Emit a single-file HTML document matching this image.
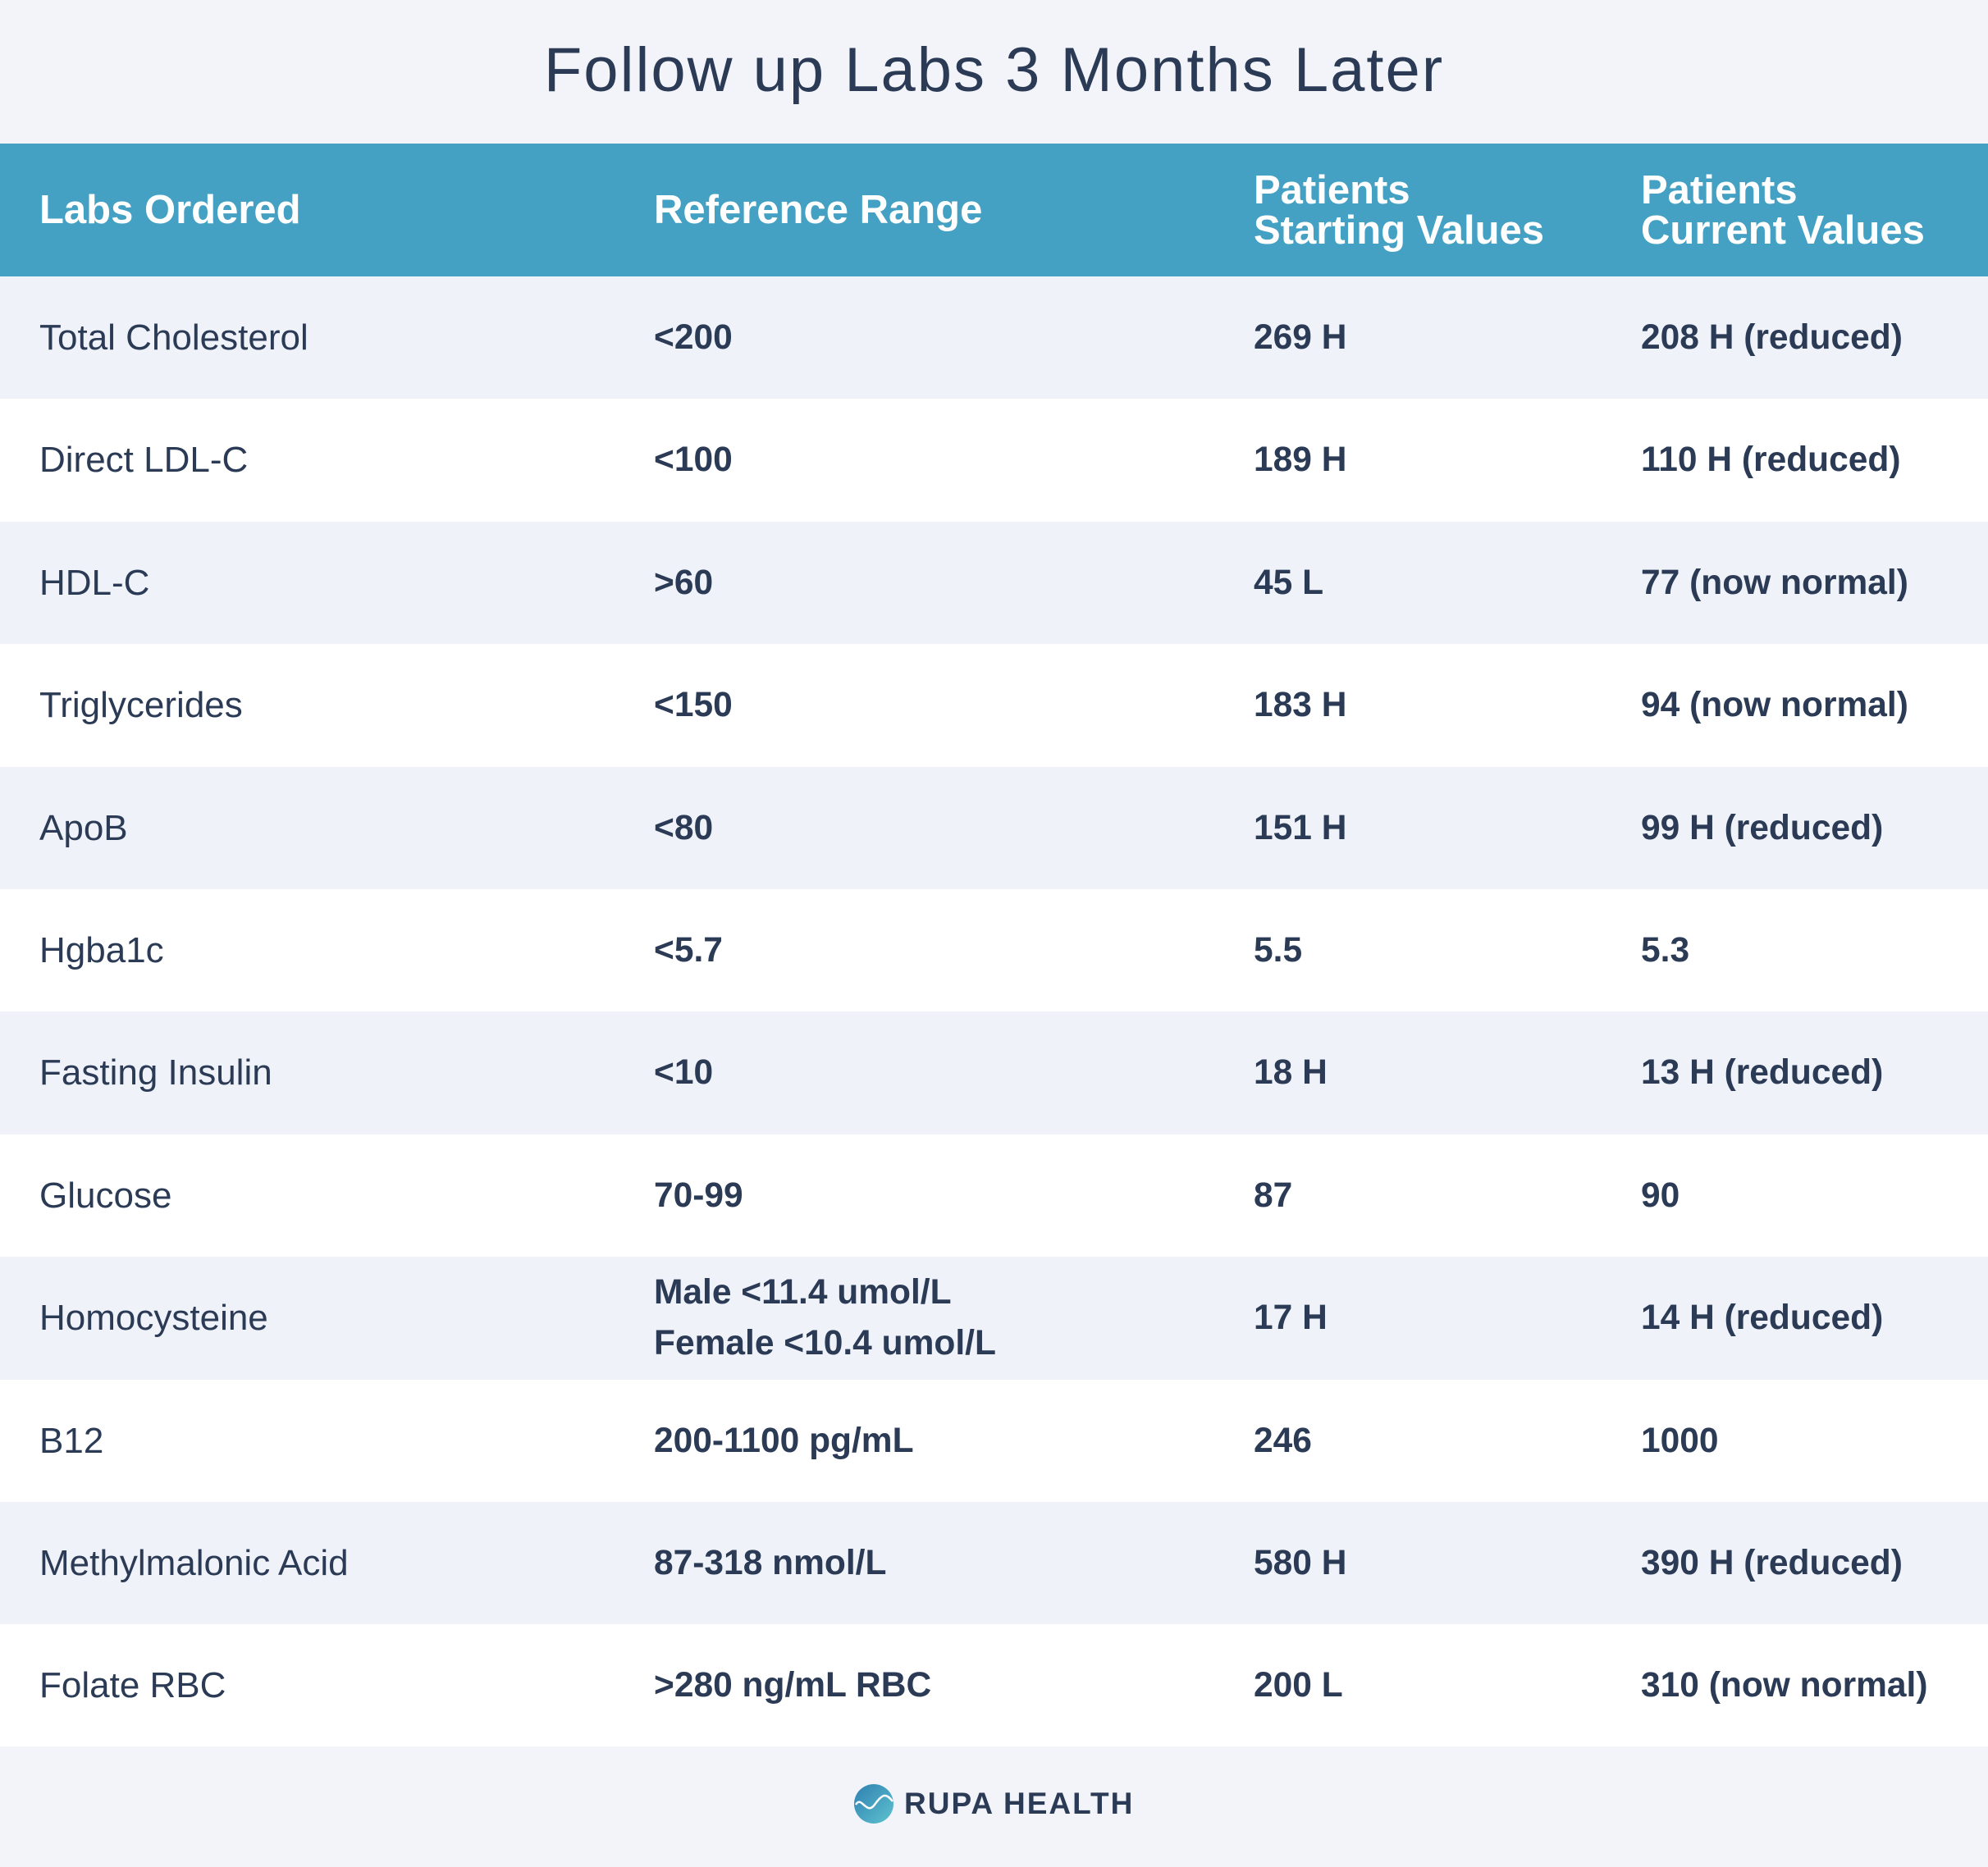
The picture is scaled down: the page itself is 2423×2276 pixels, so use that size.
<!DOCTYPE html>
<html><head><meta charset="utf-8"><style>
body{margin:0;width:2423px;height:2276px;background:#f2f4fa;font-family:"Liberation Sans",sans-serif;color:#2b3a55;position:relative;overflow:hidden}
.title{position:absolute;top:42px;left:0;width:2423px;text-align:center;font-size:76px;letter-spacing:2px;color:#2b3a55}
.hdr{position:absolute;top:175px;left:0;width:2423px;height:162px;background:#44a1c3;color:#fff;font-weight:bold;font-size:49px}
.hdr div{position:absolute;line-height:49px}
.row{position:absolute;left:0;width:2423px;height:150px;font-size:44px}
.row div{position:absolute;top:0;height:150px;display:flex;align-items:center;line-height:62px}
.c1{left:48px}.c2{left:797px;font-weight:bold;font-size:42.5px}.c3{left:1528px;font-weight:bold;font-size:42.5px}.c4{left:2000px;font-weight:bold;font-size:42.5px}
.foot{position:absolute;top:2129px;left:0;width:2423px;height:147px;background:#f2f4fa}
</style></head><body>
<div class="title">Follow up Labs 3 Months Later</div>
<div class="hdr">
<div style="left:48px;top:57px">Labs Ordered</div>
<div style="left:797px;top:57px">Reference Range</div>
<div style="left:1528px;top:33px">Patients<br>Starting Values</div>
<div style="left:2000px;top:33px">Patients<br>Current Values</div>
</div>
<div id="rows"></div>
<div class="foot">
<svg style="position:absolute;left:1040px;top:45px" width="50" height="50">
<defs><linearGradient id="g" x1="0" y1="0" x2="1" y2="1"><stop offset="0" stop-color="#2f7fb0"/><stop offset="1" stop-color="#5ec3cf"/></linearGradient></defs>
<circle cx="25" cy="25" r="24" fill="url(#g)"/>
<path d="M3 26 C10 14,16 40,26 26 S40 12,48 22" stroke="#fff" stroke-width="2.5" fill="none"/>
</svg>
<div style="position:absolute;left:1102px;top:45px;font-size:37px;font-weight:bold;letter-spacing:2px;line-height:50px">RUPA HEALTH</div>
</div>
<script>
const labs=["Total Cholesterol","Direct LDL-C","HDL-C","Triglycerides","ApoB","Hgba1c","Fasting Insulin","Glucose","Homocysteine","B12","Methylmalonic Acid","Folate RBC"];
const ranges=["<200","<100",">60","<150","<80","<5.7","<10","70-99","Male <11.4 umol/L<br>Female <10.4 umol/L","200-1100 pg/mL","87-318 nmol/L",">280 ng/mL RBC"];
const starting=["269 H","189 H","45 L","183 H","151 H","5.5","18 H","87","17 H","246","580 H","200 L"];
const current=["208 H (reduced)","110 H (reduced)","77 (now normal)","94 (now normal)","99 H (reduced)","5.3","13 H (reduced)","90","14 H (reduced)","1000","390 H (reduced)","310 (now normal)"];
const root=document.getElementById('rows');
labs.forEach((l,i)=>{
const r=document.createElement('div');
r.className='row';
r.style.top=(337+i*149.4)+'px';
r.style.background=i%2?'#ffffff':'#eff2f9';


r.innerHTML='<div class="c1">'+l+'</div><div class="c2">'+ranges[i].replace(/</g,'&lt;').replace(/&lt;br>/g,'<br>')+'</div><div class="c3">'+starting[i]+'</div><div class="c4">'+current[i]+'</div>';
root.appendChild(r);
});
</script>
</body></html>
